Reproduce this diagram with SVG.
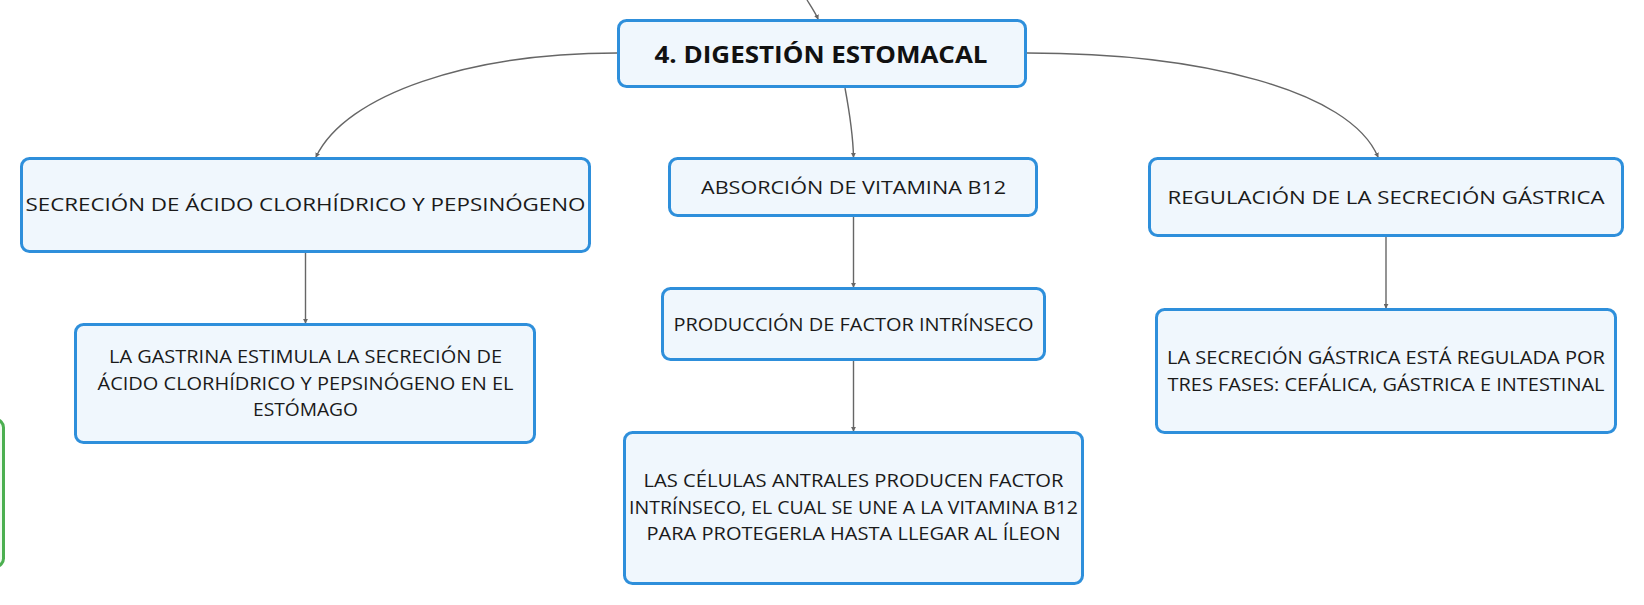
<svg xmlns="http://www.w3.org/2000/svg" width="1644" height="605" viewBox="0 0 1644 605">
<style>
.box{fill:#f0f7fd;stroke:#2e8fdb;stroke-width:3}
.gbox{fill:#f1faf1;stroke:#4caf50;stroke-width:3}
.t{font-family:"Open Sans","Liberation Sans",sans-serif;font-size:18px;fill:#1a1a1a;text-anchor:middle}
.tt{font-family:"Open Sans","Liberation Sans",sans-serif;font-size:24px;font-weight:bold;fill:#111;text-anchor:middle}
.c{fill:none;stroke:#666;stroke-width:1.4}
</style>
<defs>
<marker id="ar" viewBox="0 0 6 6" refX="5" refY="3" markerWidth="5" markerHeight="5" markerUnits="userSpaceOnUse" orient="auto">
<path d="M0,0 L6,3 L0,6 z" fill="#666"/>
</marker>
</defs>
<rect width="1644" height="605" fill="#ffffff"/>
<g id="connectors">
<path class="c" d="M807,0 C812,8 816,14 818,19" marker-end="url(#ar)"/>
<path class="c" d="M617,53 C470,53 346,94 316,157" marker-end="url(#ar)"/>
<path class="c" d="M1027,53 C1200,53 1350,90 1378,157" marker-end="url(#ar)"/>
<path class="c" d="M845,88 C850,115 853,135 853.5,157" marker-end="url(#ar)"/>
<path class="c" d="M305.5,253 L305.5,323" marker-end="url(#ar)"/>
<path class="c" d="M853.5,217 L853.5,287" marker-end="url(#ar)"/>
<path class="c" d="M853.5,361 L853.5,431" marker-end="url(#ar)"/>
<path class="c" d="M1386,237 L1386,308" marker-end="url(#ar)"/>
</g>
<g id="node-green">
<rect class="gbox" x="-20" y="419.5" width="23.5" height="147" rx="8"/>
</g>
<g id="node-title">
<rect class="box" x="618.5" y="20.5" width="407" height="66" rx="8"/>
<text class="tt" x="821" y="62.5" textLength="333" lengthAdjust="spacingAndGlyphs">4. DIGESTIÓN ESTOMACAL</text>
</g>
<g id="node-secrecion">
<rect class="box" x="21.5" y="158.5" width="568" height="93" rx="8"/>
<text class="t" x="305.5" y="210.5" textLength="560" lengthAdjust="spacingAndGlyphs">SECRECIÓN DE ÁCIDO CLORHÍDRICO Y PEPSINÓGENO</text>
</g>
<g id="node-absorcion">
<rect class="box" x="669.5" y="158.5" width="367" height="57" rx="8"/>
<text class="t" x="853.5" y="193.5" textLength="305" lengthAdjust="spacingAndGlyphs">ABSORCIÓN DE VITAMINA B12</text>
</g>
<g id="node-regulacion">
<rect class="box" x="1149.5" y="158.5" width="473" height="77" rx="8"/>
<text class="t" x="1386" y="203.5" textLength="437" lengthAdjust="spacingAndGlyphs">REGULACIÓN DE LA SECRECIÓN GÁSTRICA</text>
</g>
<g id="node-gastrina">
<rect class="box" x="75.5" y="324.5" width="459" height="118" rx="8"/>
<text class="t" x="305.5" y="362.5" textLength="393" lengthAdjust="spacingAndGlyphs">LA GASTRINA ESTIMULA LA SECRECIÓN DE</text>
<text class="t" x="305.5" y="389.5" textLength="416" lengthAdjust="spacingAndGlyphs">ÁCIDO CLORHÍDRICO Y PEPSINÓGENO EN EL</text>
<text class="t" x="305.5" y="415.5" textLength="105" lengthAdjust="spacingAndGlyphs">ESTÓMAGO</text>
</g>
<g id="node-produccion">
<rect class="box" x="662.5" y="288.5" width="382" height="71" rx="8"/>
<text class="t" x="853.5" y="330.5" textLength="360" lengthAdjust="spacingAndGlyphs">PRODUCCIÓN DE FACTOR INTRÍNSECO</text>
</g>
<g id="node-celulas">
<rect class="box" x="624.5" y="432.5" width="458" height="151" rx="8"/>
<text class="t" x="853.5" y="486.5" textLength="420" lengthAdjust="spacingAndGlyphs">LAS CÉLULAS ANTRALES PRODUCEN FACTOR</text>
<text class="t" x="853.5" y="513.5" textLength="449" lengthAdjust="spacingAndGlyphs">INTRÍNSECO, EL CUAL SE UNE A LA VITAMINA B12</text>
<text class="t" x="853.5" y="539.5" textLength="414" lengthAdjust="spacingAndGlyphs">PARA PROTEGERLA HASTA LLEGAR AL ÍLEON</text>
</g>
<g id="node-fases">
<rect class="box" x="1156.5" y="309.5" width="459" height="123" rx="8"/>
<text class="t" x="1386" y="363.5" textLength="438" lengthAdjust="spacingAndGlyphs">LA SECRECIÓN GÁSTRICA ESTÁ REGULADA POR</text>
<text class="t" x="1386" y="391" textLength="437" lengthAdjust="spacingAndGlyphs">TRES FASES: CEFÁLICA, GÁSTRICA E INTESTINAL</text>
</g>
</svg>
